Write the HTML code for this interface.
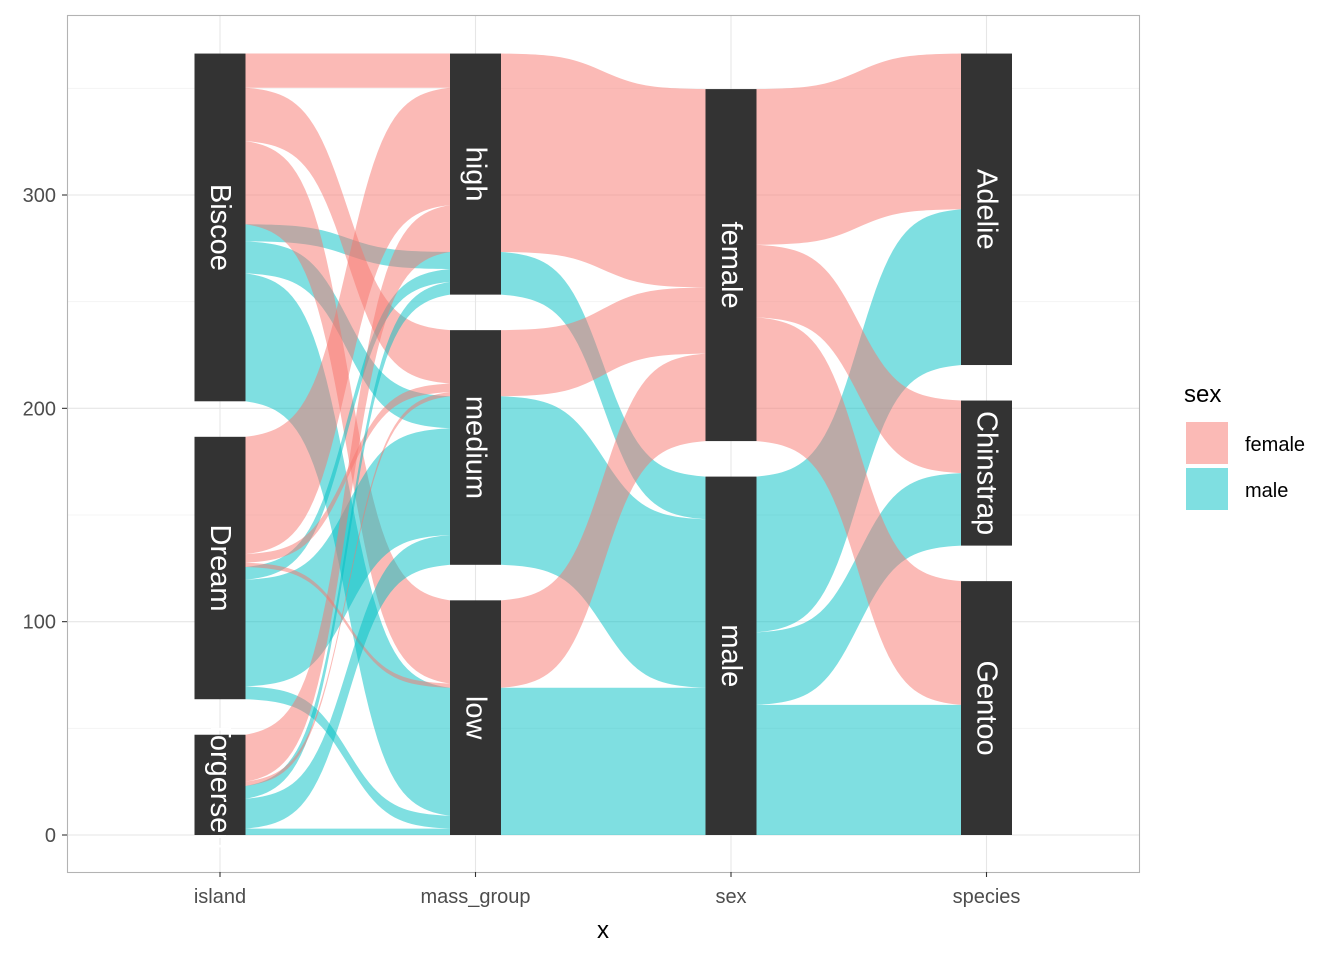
<!DOCTYPE html>
<html><head><meta charset="utf-8"><style>
body{margin:0;background:#fff;}
svg text{font-family:"Liberation Sans",sans-serif;}
</style></head><body>
<svg id="chart" width="1344" height="960" xmlns="http://www.w3.org/2000/svg">
<rect width="1344" height="960" fill="#fff"/>
<g id="grid"></g>
<g id="flows"></g>
<g id="nodes"></g>
<rect x="67.5" y="15.5" width="1072" height="857" fill="none" stroke="#B3B3B3" stroke-width="1.1"/>
<g id="axes"></g>
<text x="603" y="938" font-size="24" text-anchor="middle" fill="#000">x</text>
<g>
<text x="1184" y="402" font-size="24" fill="#000">sex</text>
<rect x="1186" y="422" width="42" height="42" fill="#F8766D" fill-opacity="0.5"/>
<rect x="1186" y="468" width="42" height="42" fill="#00BFC4" fill-opacity="0.5"/>
<text x="1245" y="451" font-size="20" fill="#000">female</text>
<text x="1245" y="497" font-size="20" fill="#000">male</text>
</g>
</svg>
<script>
const axisNames=['island','mass_group','sex','species'];
const islands=['Biscoe','Dream','Torgersen'];
const massGroups=['high','medium','low'];
const sexes=['female','male'];
const speciesNames=['Adelie','Chinstrap','Gentoo'];
const islandMassFemale=[[16,25,39],[55,4,2],[22,2,0]];
const islandMassMale=[[8,15,60],[6,50,6],[6,14,3]];
const speciesFemale=[73,34,58];
const speciesMale=[73,34,61];
const yTicks=[0,100,200,300];

const NS='http://www.w3.org/2000/svg';
const y=v=>835-v*640/300;
const axisX=[220,475.5,731,986.5];
const halfW=25.5;
const sexColors=['#F8766D','#00BFC4'];
function mk(tag,attrs,parent){const e=document.createElementNS(NS,tag);for(const k in attrs)e.setAttribute(k,attrs[k]);parent.appendChild(e);return e;}

// grid
const grid=document.getElementById('grid');
[50,150,250,350].forEach(v=>{const l=mk('line',{x1:67,x2:1139,y1:y(v),y2:y(v),stroke:'#F2F2F2','stroke-width':0.8},grid);

});
yTicks.forEach(v=>{const l=mk('line',{x1:67,x2:1139,y1:y(v),y2:y(v),stroke:'#E6E6E6','stroke-width':1.1},grid);

});
axisX.forEach(x=>{const l=mk('line',{x1:x,x2:x,y1:15,y2:872,stroke:'#E6E6E6','stroke-width':1.1},grid);

});

// build flows
const levels=[islands,massGroups,sexes,speciesNames];
const flows=[];
for(let i=0;i<3;i++)for(let m=0;m<3;m++){
  flows.push({a:0,from:i,to:m,sex:0,n:islandMassFemale[i][m]});
  flows.push({a:0,from:i,to:m,sex:1,n:islandMassMale[i][m]});}
for(let m=0;m<3;m++){
  let f=0,ml=0;for(let i=0;i<3;i++){f+=islandMassFemale[i][m];ml+=islandMassMale[i][m];}
  flows.push({a:1,from:m,to:0,sex:0,n:f});
  flows.push({a:1,from:m,to:1,sex:1,n:ml});}
for(let s=0;s<3;s++){
  flows.push({a:2,from:0,to:s,sex:0,n:speciesFemale[s]});
  flows.push({a:2,from:1,to:s,sex:1,n:speciesMale[s]});}

const total=flows.filter(f=>f.a===0).reduce((s,f)=>s+f.n,0);
const gap=0.05*total;
const nodeSize=levels.map(l=>l.map(()=>0));
flows.forEach(f=>{nodeSize[f.a][f.from]+=f.n;});
flows.filter(f=>f.a===2).forEach(f=>{nodeSize[3][f.to]+=f.n;});
const nodeTop=levels.map((l,a)=>{const tops=[];let base=0;for(let k=l.length-1;k>=0;k--){tops[k]=base+nodeSize[a][k];base+=nodeSize[a][k]+gap;}return tops;});

for(let a=0;a<3;a++){
  const fl=flows.filter(f=>f.a===a);
  const outCur=nodeTop[a].slice(), inCur=nodeTop[a+1].slice();
  fl.slice().sort((p,q)=>p.from-q.from||p.sex-q.sex||p.to-q.to).forEach(f=>{f.t0=outCur[f.from];outCur[f.from]-=f.n;});
  fl.slice().sort((p,q)=>p.to-q.to||p.sex-q.sex||p.from-q.from).forEach(f=>{f.t1=inCur[f.to];inCur[f.to]-=f.n;});
}
const K=10,S0=1/(1+Math.exp(K/2)),S1=1/(1+Math.exp(-K/2));
const sig=t=>(1/(1+Math.exp(-K*(t-0.5)))-S0)/(S1-S0);
const fg=document.getElementById('flows');
flows.forEach(f=>{
  if(f.n<=0)return;
  const x0=axisX[f.a]+halfW,x1=axisX[f.a+1]-halfW;
  const a0=y(f.t0),b0=y(f.t0-f.n),a1=y(f.t1),b1=y(f.t1-f.n);
  const N=48,top=[],bot=[];
  for(let j=0;j<=N;j++){const t=j/N,s=sig(t),x=(x0+(x1-x0)*t).toFixed(2);
    top.push(x+','+(a0+(a1-a0)*s).toFixed(2));bot.push(x+','+(b0+(b1-b0)*s).toFixed(2));}
  const d='M'+top.join(' L')+' L'+bot.reverse().join(' L')+' Z';
  const p=mk('path',{d:d,fill:sexColors[f.sex],'fill-opacity':0.5},fg);
  
  
});

const ng=document.getElementById('nodes');
levels.forEach((l,a)=>l.forEach((name,k)=>{
  const top=y(nodeTop[a][k]),bot=y(nodeTop[a][k]-nodeSize[a][k]);
  const r=mk('rect',{x:axisX[a]-halfW,y:top,width:halfW*2,height:bot-top,fill:'#333333'},ng);
  
  
  const cy=(top+bot)/2;
  const t=mk('text',{x:axisX[a],y:cy,'font-size':29,fill:'#fff','text-anchor':'middle','dominant-baseline':'central',transform:`rotate(90 ${axisX[a]} ${cy})`},ng);
  t.textContent=name;
  
  
}));

const ag=document.getElementById('axes');
yTicks.forEach(v=>{
  const tk=mk('line',{x1:62,x2:67,y1:y(v),y2:y(v),stroke:'#333','stroke-width':1.1},ag);
  
  
  const t=mk('text',{x:56,y:y(v)+7,'font-size':20,fill:'#4D4D4D','text-anchor':'end'},ag);
  t.textContent=v;
  
  
});
axisNames.forEach((n,i)=>{
  const tk=mk('line',{x1:axisX[i],x2:axisX[i],y1:872,y2:877,stroke:'#333','stroke-width':1.1},ag);
  
  
  const t=mk('text',{x:axisX[i],y:903,'font-size':20,fill:'#4D4D4D','text-anchor':'middle'},ag);
  t.textContent=n;
  
  
});
</script>
</body></html>
